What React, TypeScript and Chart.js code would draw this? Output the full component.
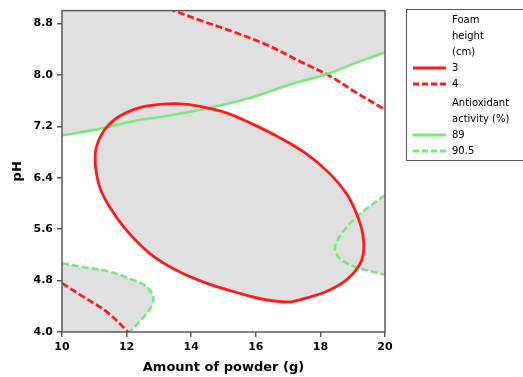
import React, { useEffect, useRef } from "react";
import { Chart, registerables } from "chart.js";

Chart.register(...registerables);

// Axis ticks
const xTicks = [10, 12, 14, 16, 18, 20];
const yTicks = [4.0, 4.8, 5.6, 6.4, 7.2, 8.0, 8.8];
const xMin = 10;
const xMax = 20;
const yMin = 4.0;
const yMax = 9.0;

// Foam height (cm) contour = 3 (closed ellipse)
const foam3: [number, number][] = [
  [11.06, 6.87], [11.17, 7.02], [11.37, 7.18], [11.79, 7.36], [12.41, 7.49],
  [13.03, 7.54], [13.65, 7.55], [14.27, 7.51], [15.09, 7.41], [15.92, 7.23],
  [16.75, 7.02], [17.57, 6.77], [18.3, 6.46], [18.81, 6.15], [19.12, 5.84],
  [19.31, 5.53], [19.33, 5.22], [19.17, 5.01], [18.81, 4.81], [18.19, 4.63],
  [17.57, 4.53], [17.06, 4.47], [16.33, 4.5], [15.51, 4.6], [14.47, 4.76],
  [13.54, 4.96], [12.72, 5.22], [12.0, 5.58], [11.48, 5.94], [11.17, 6.25],
  [11.04, 6.56], [11.03, 6.77], [11.06, 6.87],
];

// Foam height (cm) contour = 4 (upper branch)
const foam4Upper: [number, number][] = [
  [13.3, 9.03], [14.27, 8.85], [15.3, 8.67], [16.33, 8.47], [17.37, 8.21],
  [18.3, 7.98], [19.12, 7.72], [20, 7.46],
];

// Foam height (cm) contour = 4 (lower-left branch)
const foam4Lower: [number, number][] = [
  [10, 4.76], [10.65, 4.55], [11.37, 4.32], [11.99, 4.03], [12.05, 3.99],
];

// Antioxidant activity (%) contour = 89
const anti89: [number, number][] = [
  [10, 7.06], [11.17, 7.16], [12.2, 7.28], [13.23, 7.36], [14.58, 7.49],
  [15.82, 7.64], [17.06, 7.85], [18.19, 8.01], [19.22, 8.21], [20, 8.35],
];

// Antioxidant activity (%) contour = 90.5 (right branch)
const anti905Right: [number, number][] = [
  [20, 6.13], [19.43, 5.92], [19.12, 5.79], [18.81, 5.63], [18.55, 5.45],
  [18.45, 5.3], [18.55, 5.17], [18.81, 5.07], [19.17, 5.0], [19.53, 4.95],
  [20, 4.89],
];

// Antioxidant activity (%) contour = 90.5 (lower-left branch)
const anti905Left: [number, number][] = [
  [10, 5.07], [10.65, 5.01], [11.48, 4.94], [12.2, 4.81], [12.61, 4.71],
  [12.82, 4.55], [12.77, 4.4], [12.51, 4.22], [12.1, 4.0],
];

const RED = "#ff1a1a";
const GREEN = "#7fe67f";
const GRAY = "#e0e0e0";
const FRAME = "#5a5a5a";
const DASH = [7, 3];

const pts = (a: [number, number][]) => a.map(([x, y]) => ({ x, y }));

const framePlugin = {
  id: "frame",
  afterDatasetsDraw(chart: any) {
    const { ctx, chartArea } = chart;
    ctx.save();
    ctx.strokeStyle = FRAME;
    ctx.lineWidth = 1.5;
    ctx.strokeRect(chartArea.left, chartArea.top, chartArea.right - chartArea.left, chartArea.bottom - chartArea.top);
    ctx.restore();
  },
};

export default function App() {
  const ref = useRef<HTMLCanvasElement>(null);

  useEffect(() => {
    const canvas = ref.current;
    if (!canvas) return;
    const llFirst = anti905Left[0];
    const llLast = anti905Left[anti905Left.length - 1];
    const triangle = [
      { x: xMin, y: yMin },
      { x: llLast[0], y: llLast[1] },
      { x: llFirst[0], y: llFirst[1] },
    ];
    const base = { pointRadius: 0, pointHoverRadius: 0, tension: 0.35 };
    const chart = new Chart(canvas, {
      type: "line",
      data: {
        datasets: [
          { ...base, label: "fillTri", data: triangle, tension: 0, borderWidth: 0, fill: "shape", backgroundColor: GRAY, borderColor: "rgba(0,0,0,0)" } as any,
          { ...base, label: "3", data: pts(foam3), borderColor: RED, borderWidth: 2.8, fill: "shape", backgroundColor: GRAY } as any,
          { ...base, label: "89", data: pts(anti89), borderColor: GREEN, borderWidth: 2.6, fill: "end", backgroundColor: GRAY } as any,
          { ...base, label: "90.5 right", data: pts(anti905Right), borderColor: GREEN, borderWidth: 2.6, borderDash: DASH, fill: "shape", backgroundColor: GRAY } as any,
          { ...base, label: "90.5 left", data: pts(anti905Left), borderColor: GREEN, borderWidth: 2.6, borderDash: DASH, fill: "shape", backgroundColor: GRAY } as any,
          { ...base, label: "4 upper", data: pts(foam4Upper), borderColor: RED, borderWidth: 2.8, borderDash: DASH, fill: false } as any,
          { ...base, label: "4 lower", data: pts(foam4Lower), borderColor: RED, borderWidth: 2.8, borderDash: DASH, fill: false } as any,
        ],
      },
      options: {
        animation: false,
        responsive: true,
        maintainAspectRatio: false,
        layout: { padding: { top: 10, right: 138, left: 0, bottom: 0 } },
        plugins: {
          legend: { display: false },
          tooltip: { enabled: false },
          filler: { propagate: false, drawTime: "beforeDatasetsDraw" },
        } as any,
        scales: {
          x: {
            type: "linear",
            min: xMin,
            max: xMax,
            afterFit: (s: any) => { s.height = 45; },
            afterBuildTicks: (s: any) => { s.ticks = xTicks.map((v) => ({ value: v })); },
            border: { display: false },
            grid: { drawOnChartArea: false, drawTicks: true, tickLength: 5, color: FRAME, lineWidth: 1.5 },
            ticks: {
              color: "#000",
              padding: 4,
              maxRotation: 0,
              autoSkip: false,
              font: { family: "'DejaVu Sans', sans-serif", size: 11, weight: "bold" },
              callback: (v: any) => String(v),
            },
            title: {
              display: true,
              text: "Amount of powder (g)",
              color: "#000",
              padding: { top: 0, bottom: 2 },
              font: { family: "'DejaVu Sans', sans-serif", size: 13, weight: "bold" },
            },
          },
          y: {
            type: "linear",
            min: yMin,
            max: yMax,
            afterFit: (s: any) => { s.width = 62; },
            afterBuildTicks: (s: any) => { s.ticks = yTicks.map((v) => ({ value: v })); },
            border: { display: false },
            grid: { drawOnChartArea: false, drawTicks: true, tickLength: 5, color: FRAME, lineWidth: 1.5 },
            ticks: {
              color: "#000",
              padding: 4,
              autoSkip: false,
              font: { family: "'DejaVu Sans', sans-serif", size: 11, weight: "bold" },
              callback: (v: any) => Number(v).toFixed(1),
            },
            title: {
              display: true,
              text: "pH",
              color: "#000",
              padding: { top: 10, bottom: 0 },
              font: { family: "'DejaVu Sans', sans-serif", size: 13, weight: "bold" },
            },
          },
        },
      },
      plugins: [framePlugin],
    });
    return () => chart.destroy();
  }, []);

  const legendText = (text: string, cy: number) => (
    <div
      key={text + cy}
      style={{ position: "absolute", left: 452, top: cy - 7, lineHeight: "14px", fontSize: 10, color: "#000", whiteSpace: "nowrap" }}
    >
      {text}
    </div>
  );
  const legendLine = (color: string, dashed: boolean, cy: number) => (
    <svg key={color + cy} style={{ position: "absolute", left: 413, top: cy - 3 }} width={34} height={6}>
      <line x1={0} y1={3} x2={33} y2={3} stroke={color} strokeWidth={3} strokeDasharray={dashed ? "6 3" : undefined} />
    </svg>
  );

  return (
    <div
      style={{
        position: "absolute",
        left: 0,
        top: 0,
        width: 523,
        height: 377,
        background: "#fff",
        overflow: "hidden",
        fontFamily: "'DejaVu Sans', sans-serif",
      }}
    >
      <div style={{ position: "absolute", left: 0, top: 0, width: 523, height: 377 }}>
        <canvas ref={ref} />
      </div>
      <div
        style={{
          position: "absolute",
          left: 406,
          top: 9,
          width: 140,
          height: 152,
          border: "1.5px solid " + FRAME,
          boxSizing: "border-box",
        }}
      />
      {legendText("Foam", 20)}
      {legendText("height", 36)}
      {legendText("(cm)", 52)}
      {legendLine(RED, false, 68)}
      {legendText("3", 68)}
      {legendLine(RED, true, 84)}
      {legendText("4", 84)}
      {legendText("Antioxidant", 103)}
      {legendText("activity (%)", 119)}
      {legendLine(GREEN, false, 135)}
      {legendText("89", 135)}
      {legendLine(GREEN, true, 151)}
      {legendText("90.5", 151)}
    </div>
  );
}
